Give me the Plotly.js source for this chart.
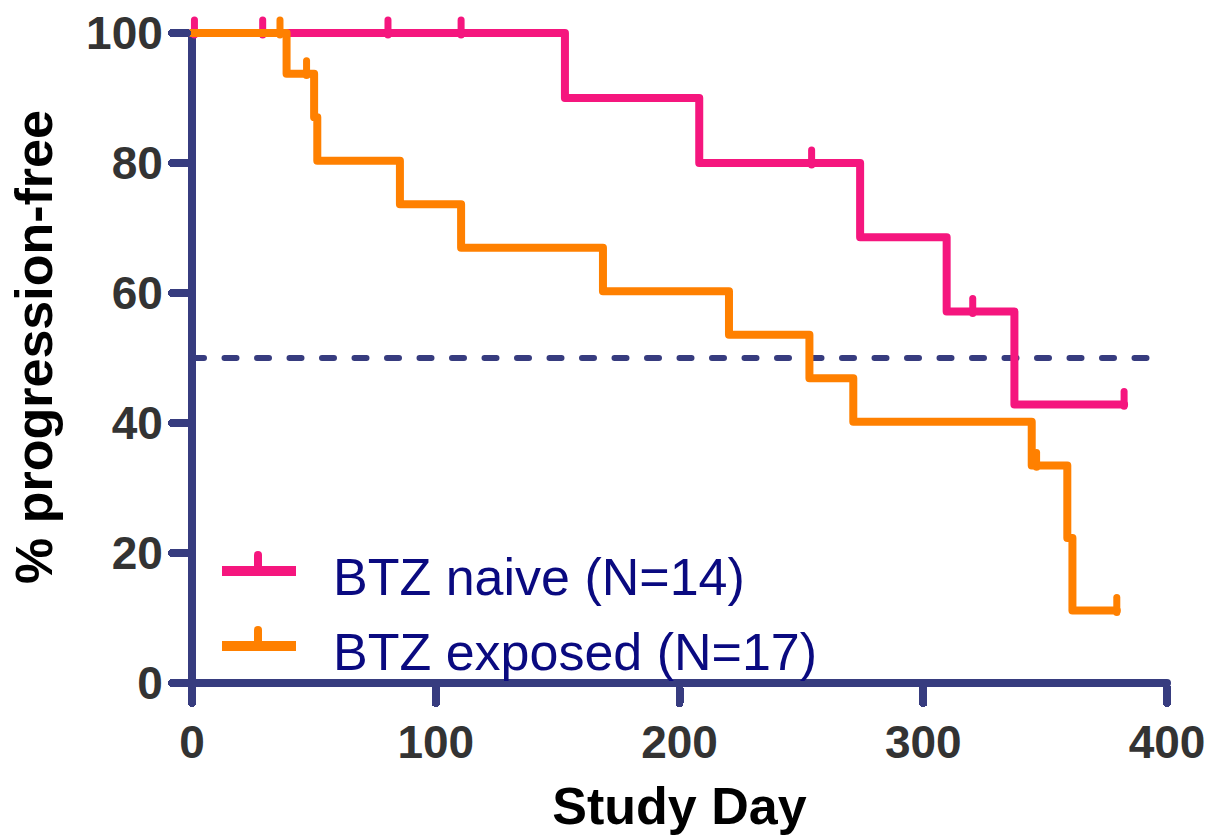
<!DOCTYPE html>
<html>
<head>
<meta charset="utf-8">
<script src="https://cdn.plot.ly/plotly-3.0.1.min.js"></script>
<style>
  html, body { margin: 0; padding: 0; background: #ffffff; }
  #chart { width: 1212px; height: 839px; }
  /* rounded ends and corners on the survival steps, axes, ticks and reference line */
  .scatterlayer .js-line { stroke-linecap: round; stroke-linejoin: round; }
  .xtick.ticks, .ytick.ticks { stroke-linecap: round; }
</style>
</head>
<body>
<div id="chart"></div>
<script>
// Kaplan-Meier steps (day, % progression-free)
const naiveDays = [0, 153.0, 208.1, 274.1, 309.6, 337.4, 382.4];
const naivePct  = [100, 90.0, 80.0, 68.57, 57.14, 42.86, 42.86];
const naiveCensorDays = [1, 29, 80.4, 110.4, 254.2, 320.3, 382.4];
const naiveCensorPct  = [100, 100, 100, 100, 80.0, 57.14, 42.86];

const exposedDays = [0, 38.8, 50.1, 51.4, 85.3, 110.4, 168.6, 220.3, 253.3, 271.3, 344.5, 359.1, 361.2, 379.4];
const exposedPct  = [100, 93.75, 87.05, 80.36, 73.66, 66.96, 60.27, 53.57, 46.88, 40.18, 33.48, 22.32, 11.16, 11.16];
const exposedCensorDays = [36.1, 47.0, 346.5, 379.4];
const exposedCensorPct  = [100, 93.75, 33.48, 11.16];

const medianLine = {days: [0, 400], pct: [50, 50]};

const xTicks = [0, 100, 200, 300, 400];
const yTicks = [0, 20, 40, 60, 80, 100];
const xSpan = [0, 400];
const ySpan = [0, 100];

const groups = [
  {name: 'BTZ naive (N=14)', color: '#f5167e'},
  {name: 'BTZ exposed (N=17)', color: '#ff8000'}
];

const axisColor = '#373c7f';
const tickLift = 2.0;   // censor tick height, in % units

// vertical censor marks rising from the curve
function censorTicks(days, pct) {
  const x = [], y = [];
  days.forEach((d, i) => {
    x.push(d, d, null);
    y.push(pct[i] - 0.3, pct[i] + tickLift, null);
  });
  return {x, y};
}

const nC = censorTicks(naiveCensorDays, naiveCensorPct);
const eC = censorTicks(exposedCensorDays, exposedCensorPct);

const axisLine = {color: axisColor, width: 8};
const traces = [
  // axes through the origin
  {x: [xSpan[0], xSpan[1]], y: [ySpan[0], ySpan[0]], mode: 'lines', line: axisLine,
   hoverinfo: 'skip', showlegend: false},
  {x: [xSpan[0], xSpan[0]], y: [ySpan[0], ySpan[1]], mode: 'lines', line: axisLine,
   hoverinfo: 'skip', showlegend: false},
  // 50% reference
  {x: medianLine.days, y: medianLine.pct, mode: 'lines',
   line: {color: axisColor, width: 6, dash: '12px,20.5px'},
   hoverinfo: 'skip', showlegend: false},
  {x: naiveDays, y: naivePct, mode: 'lines', name: groups[0].name,
   line: {color: groups[0].color, width: 8, shape: 'hv'}, showlegend: false},
  {x: nC.x, y: nC.y, mode: 'lines', line: {color: groups[0].color, width: 7},
   hoverinfo: 'skip', showlegend: false},
  {x: exposedDays, y: exposedPct, mode: 'lines', name: groups[1].name,
   line: {color: groups[1].color, width: 8, shape: 'hv'}, showlegend: false},
  {x: eC.x, y: eC.y, mode: 'lines', line: {color: groups[1].color, width: 7},
   hoverinfo: 'skip', showlegend: false}
];

// plot area geometry (px)
const M = {l: 188, r: 41, t: 7, b: 152};
const W = 1212, H = 839;
const PW = W - M.l - M.r, PH = H - M.t - M.b;
const px2x = px => (px - M.l) / PW;
const px2y = py => (H - M.b - py) / PH;

// legend drawn as line samples plus labels
const legendRows = [571, 646];
const shapes = [], annotations = [];
groups.forEach((g, i) => {
  const yy = px2y(legendRows[i]);
  shapes.push({type: 'line', xref: 'paper', yref: 'paper',
    x0: px2x(222), x1: px2x(296), y0: yy, y1: yy,
    line: {color: g.color, width: 10}});
  shapes.push({type: 'line', xref: 'paper', yref: 'paper',
    x0: px2x(258), x1: px2x(258), y0: yy, y1: px2y(legendRows[i] - 16),
    line: {color: g.color, width: 8}});
  shapes.push({type: 'circle', xref: 'paper', yref: 'paper',
    x0: px2x(254), x1: px2x(262), y0: px2y(legendRows[i] - 12), y1: px2y(legendRows[i] - 20),
    fillcolor: g.color, line: {width: 0}});
  annotations.push({xref: 'paper', yref: 'paper', x: px2x(331), y: px2y(legendRows[i] + 6),
    xanchor: 'left', yanchor: 'middle', showarrow: false, text: g.name,
    font: {family: 'Liberation Sans, Arial, sans-serif', size: 52, color: '#0a0a80'}});
});

const tickFont = {family: 'Liberation Sans, Arial, sans-serif', size: 46, color: '#333333', weight: 'bold'};
const titleFont = {family: 'Liberation Sans, Arial, sans-serif', size: 52, color: '#000000', weight: 'bold'};

// 2.4375 px per day, 6.5 px per % point
const layout = {
  width: W, height: H, autosize: false,
  margin: M,
  paper_bgcolor: '#ffffff', plot_bgcolor: '#ffffff',
  showlegend: false,
  xaxis: {
    range: [-4 / 2.4375, 400 + 4 / 2.4375],
    tickvals: xTicks, ticktext: xTicks.map(String),
    showgrid: false, showline: false, zeroline: false,
    ticks: 'outside', ticklen: 15, tickwidth: 8, tickcolor: axisColor,
    tickfont: tickFont,
    title: {text: 'Study Day', font: titleFont, standoff: 20},
    fixedrange: true
  },
  yaxis: {
    range: [-4 / 6.5, 100 + 26 / 6.5],
    tickvals: yTicks, ticktext: yTicks.map(String),
    showgrid: false, showline: false, zeroline: false,
    ticks: 'outside', ticklen: 15, tickwidth: 8, tickcolor: axisColor,
    tickfont: tickFont,
    title: {text: '% progression-free', font: titleFont, standoff: 16},
    fixedrange: true
  },
  shapes: shapes,
  annotations: annotations
};

Plotly.newPlot('chart', traces, layout, {displayModeBar: false, staticPlot: true});
</script>
</body>
</html>
